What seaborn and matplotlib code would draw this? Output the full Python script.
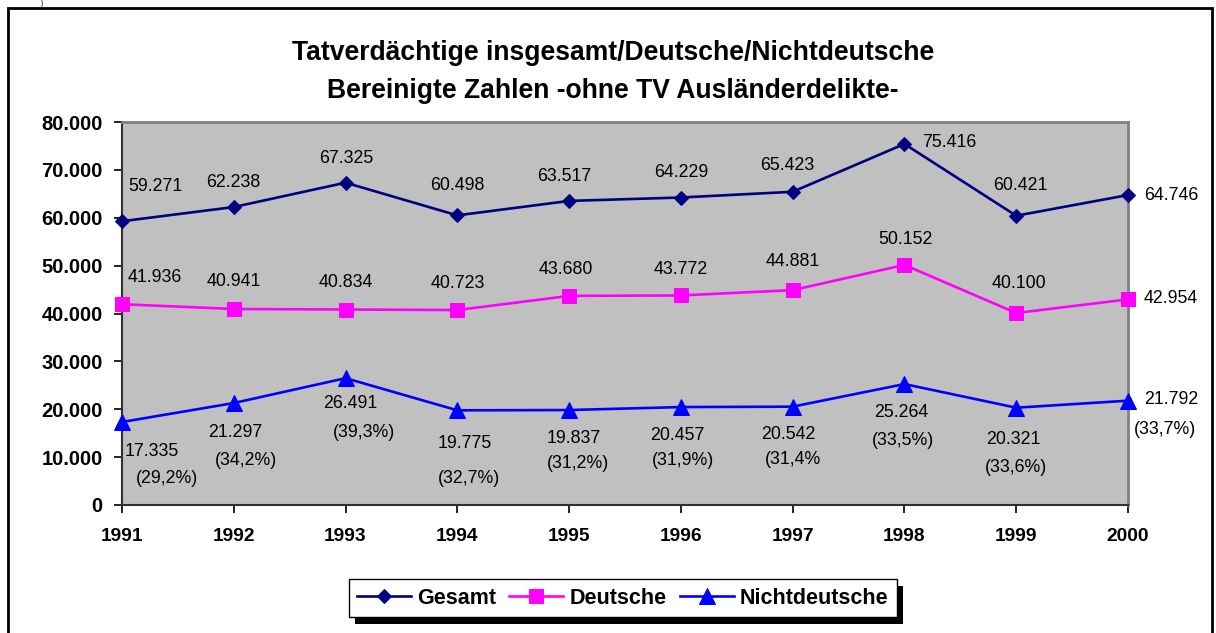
import matplotlib
matplotlib.use("Agg")
import matplotlib.pyplot as plt
from matplotlib.patches import Rectangle
import pandas as pd
import seaborn as sns

years = [1991, 1992, 1993, 1994, 1995, 1996, 1997, 1998, 1999, 2000]
gesamt = [59271, 62238, 67325, 60498, 63517, 64229, 65423, 75416, 60421, 64746]
deutsche = [41936, 40941, 40834, 40723, 43680, 43772, 44881, 50152, 40100, 42954]
nichtdeutsche = [17335, 21297, 26491, 19775, 19837, 20457, 20542, 25264, 20321, 21792]
anteil = ["(29,2%)", "(34,2%)", "(39,3%)", "(32,7%)", "(31,2%)",
          "(31,9%)", "(31,4%", "(33,5%)", "(33,6%)", "(33,7%)"]

title = "Tatverdächtige insgesamt/Deutsche/Nichtdeutsche\nBereinigte Zahlen -ohne TV Ausländerdelikte-"

# label offsets in pixels (dx, dy up)
off_g = [(33, 35), (-1, 25), (1, 24), (0, 30), (-5, 24), (0, 25), (-5, 26), (45, 1), (4, 30), (43, 0)]
off_d = [(33, 27), (0, 27), (0, 27), (0, 27), (-3, 26), (0, 26), (0, 29), (1, 25), (3, 30), (43, 1)]
off_n = [(30, -29), (1, -29), (5, -25), (7, -33), (5, -28), (-4, -28), (-4, -28), (-3, -28), (-3, -32), (43, 1)]
off_p = [(45, -56), (12, -57), (18, -54), (12, -68), (9, -53), (2, -53), (0, -53), (-1, -56), (0, -60), (37, -29)]


def fmt(v):
    return f"{v:,}".replace(",", ".")


plt.rcParams['font.family'] = ['Liberation Sans', 'DejaVu Sans']

fig = plt.figure(figsize=(12.16, 6.33), dpi=100)
ax = fig.add_axes([122 / 1216, 1 - 505 / 633, 1006 / 1216, 383 / 633])
ax.set_facecolor("#C0C0C0")

series = [
    ("Gesamt", gesamt, "#000080", "D", 6.8),
    ("Deutsche", deutsche, "#FF00FF", "s", 10),
    ("Nichtdeutsche", nichtdeutsche, "#0000FF", "^", 11),
]
for name, vals, col, mk, ms in series:
    df = pd.DataFrame({"Jahr": years, "Anzahl": vals})
    sns.lineplot(data=df, x="Jahr", y="Anzahl", ax=ax, color=col, marker=mk,
                 markersize=ms, markeredgecolor=col, linewidth=1.9,
                 label=name, clip_on=False, zorder=3)

for i, y in enumerate(years):
    ax.annotate(fmt(gesamt[i]), (y, gesamt[i]), xytext=off_g[i], textcoords="offset pixels",
                ha="center", va="center", fontsize=12.8)
    ax.annotate(fmt(deutsche[i]), (y, deutsche[i]), xytext=off_d[i], textcoords="offset pixels",
                ha="center", va="center", fontsize=12.8)
    ax.annotate(fmt(nichtdeutsche[i]), (y, nichtdeutsche[i]), xytext=off_n[i], textcoords="offset pixels",
                ha="center", va="center", fontsize=12.8)
    ax.annotate(anteil[i], (y, nichtdeutsche[i]), xytext=off_p[i], textcoords="offset pixels",
                ha="center", va="center", fontsize=12.8)

ax.set_xlim(1991, 2000)
ax.set_ylim(0, 80000)
ax.set_xticks(years)
ax.set_xticklabels([str(y) for y in years])
yt = list(range(0, 80001, 10000))
ax.set_yticks(yt)
ax.set_yticklabels([fmt(v) for v in yt])
ax.set_xlabel("")
ax.set_ylabel("")
ax.tick_params(axis="y", direction="out", length=6, width=1.2, pad=8, labelsize=14.5)
ax.tick_params(axis="x", direction="out", length=6, width=1.2, pad=10.5, labelsize=13.8)
for lab in ax.get_xticklabels() + ax.get_yticklabels():
    lab.set_fontweight("bold")

for s in ["top", "right"]:
    ax.spines[s].set_color("#808080")
    ax.spines[s].set_linewidth(2)
for s in ["left", "bottom"]:
    ax.spines[s].set_color("#303030")
    ax.spines[s].set_linewidth(1.5)

ax.get_legend().remove()
handles, labels = ax.get_legend_handles_labels()
leg = fig.legend(handles, labels, loc="center", bbox_to_anchor=(623 / 1216, 1 - 598 / 633),
                 ncol=3, frameon=True, fancybox=False, edgecolor="black", framealpha=1,
                 prop={"weight": "bold", "size": 15.5}, handlelength=2.5,
                 handletextpad=0.3, columnspacing=0.6, borderpad=0.4)
leg.get_frame().set_linewidth(1)
leg.set_zorder(5)

fig.text(613 / 1216, 1 - 72 / 633, title, ha="center", va="center",
         fontsize=19.1, fontweight="bold", linespacing=1.62)

# outer chart border
fig.patches.append(Rectangle((8 / 1216, -0.05), 1204 / 1216, 1 - 8 / 633 + 0.05,
                             transform=fig.transFigure, fill=False,
                             edgecolor="black", linewidth=2))
fig.text(42 / 1216, 1.0, ")", ha="center", va="top", fontsize=5)

fig.canvas.draw()
bb = leg.get_window_extent()
fig.patches.append(Rectangle((bb.x0 + 6, bb.y0 - 7), bb.width, bb.height, transform=None,
                             facecolor="black", edgecolor="none", zorder=4))

fig.savefig("out.png", dpi=100)
